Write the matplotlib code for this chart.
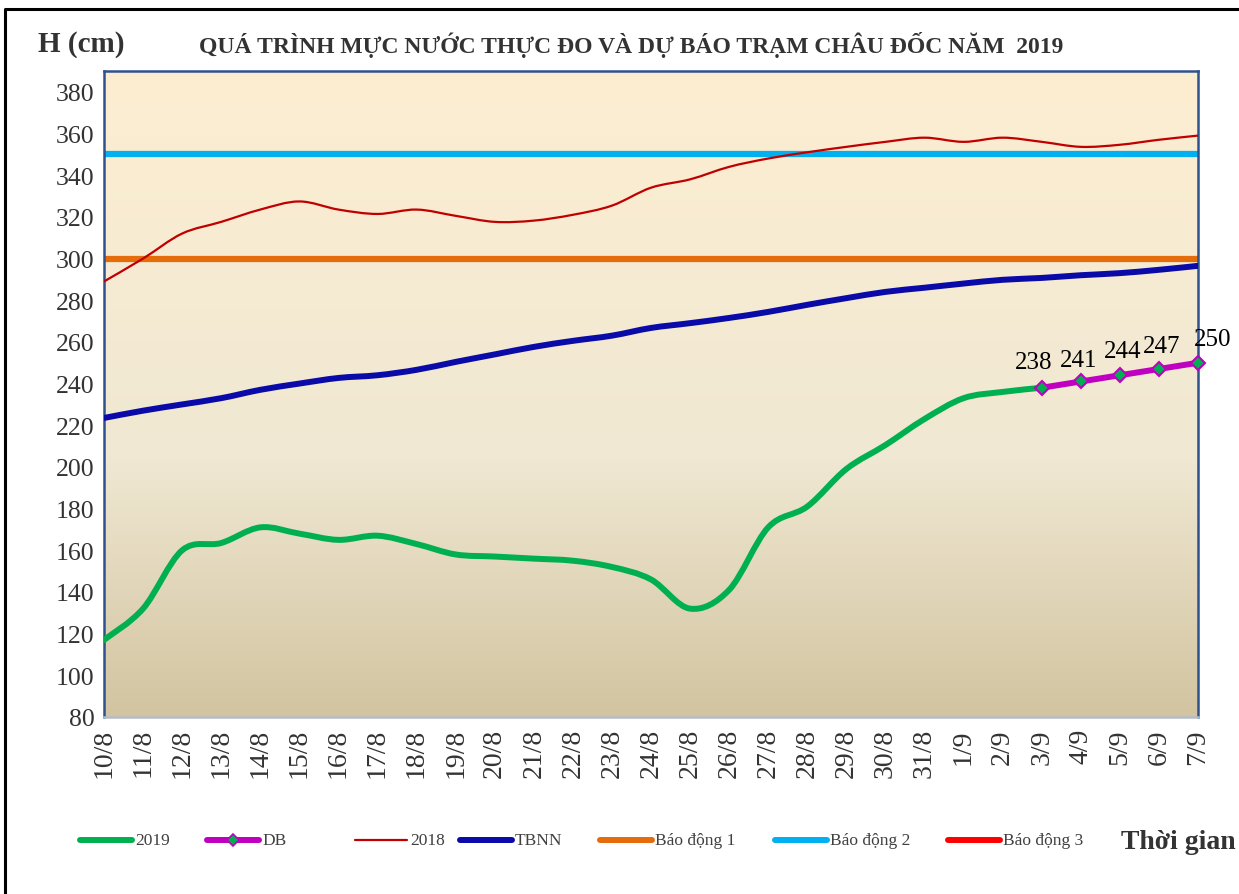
import numpy as np
import matplotlib
matplotlib.use('Agg')
import matplotlib.pyplot as plt
from matplotlib.colors import LinearSegmentedColormap
from matplotlib.lines import Line2D
from matplotlib.path import Path
from matplotlib.patches import PathPatch

plt.rcParams['font.family'] = ['Liberation Serif', 'DejaVu Serif']

# Data
##########################################################################
dates = ['10/8', '11/8', '12/8', '13/8', '14/8', '15/8', '16/8', '17/8', '18/8', '19/8',
         '20/8', '21/8', '22/8', '23/8', '24/8', '25/8', '26/8', '27/8', '28/8', '29/8',
         '30/8', '31/8', '1/9', '2/9', '3/9', '4/9', '5/9', '6/9', '7/9']

# observed 2019 water level, up to 3/9
h_2019 = [117, 132, 160, 163.5, 171, 168, 165, 167, 163, 158,
          157, 156, 155, 152, 146, 132, 141, 171, 181, 199,
          210.5, 223, 233, 236, 238]

# forecast (DB), 3/9 -> 7/9
h_db = [238, 241, 244, 247, 250]

h_2018 = [289, 300, 312, 317.6, 323.5, 327.4, 323.5, 321.4, 323.5, 320.5,
          317.6, 318.2, 321, 325.4, 334, 338, 344, 348, 351, 353.6,
          356, 358, 356, 358, 356, 353.6, 354.6, 357, 359]

h_tbnn = [223.5, 227, 230, 233, 237, 240, 242.7, 244, 246.6, 250.4,
          254, 257.6, 260.5, 263, 266.7, 269, 271.5, 274.4, 277.8, 281,
          284, 286, 288, 289.8, 290.7, 292, 293, 294.6, 296.5]

bao_dong = [300, 350, 400]   # alarm levels 1, 2, 3


# draws a smoothed line through the points (bezier path, like excel "smoothed line")
def smooth_line(ax, xs, ys, **kw):
    p = np.column_stack([xs, ys]).astype(float)
    verts = [p[0]]
    codes = [Path.MOVETO]
    for i in range(len(p) - 1):
        p0 = p[i - 1] if i > 0 else p[i]
        p3 = p[i + 2] if i + 2 < len(p) else p[i + 1]
        c1 = p[i] + (p[i + 1] - p0) / 6
        c2 = p[i + 1] - (p3 - p[i]) / 6
        verts += [c1, c2, p[i + 1]]
        codes += [Path.CURVE4] * 3
    patch = PathPatch(Path(verts, codes), fill=False, **kw)
    ax.add_patch(patch)
    return patch


# Figure
##########################################################################
W, H = 1239, 895
fig = plt.figure(figsize=(W / 100, H / 100), dpi=100)
fig.patch.set_facecolor('white')

L, R, T, B = 104, 1198, 72, 718
ax = fig.add_axes([L / W, 1 - B / H, (R - L) / W, (B - T) / H])

x = np.arange(len(dates))
ymin, ymax = 80, 390

# gradient background of the plot area
cmap = LinearSegmentedColormap.from_list('bg', [(0, '#FDEED1'), (0.6, '#F0E8D3'), (1.0, '#D2C4A0')])
grad = np.linspace(0, 1, 256).reshape(-1, 1)
ax.imshow(grad, cmap=cmap, aspect='auto', extent=[0, len(dates) - 1, ymin, ymax],
          origin='upper', zorder=0)

c_bd = ['#E46C0A', '#00B0F0', '#FF0000']
for lvl, c in zip(bao_dong, c_bd):
    ax.plot(x, [lvl] * len(x), color=c, lw=4.5, zorder=2, solid_capstyle='butt')

smooth_line(ax, x, h_2018, edgecolor='#C00000', lw=1.6, zorder=3)
smooth_line(ax, x, h_tbnn, edgecolor='#0A0AA8', lw=4.3, zorder=3, capstyle='round')
smooth_line(ax, x[:len(h_2019)], h_2019, edgecolor='#00B050', lw=4.3, zorder=4, capstyle='round')
x_db = x[len(h_2019) - 1:]
smooth_line(ax, x_db, h_db, edgecolor='#C000C0', lw=4.3, zorder=5, capstyle='round', clip_on=False)
ax.plot(x_db, h_db, ls='none', zorder=6, marker='D', markersize=7,
        markerfacecolor='#00B050', markeredgecolor='#C000C0', markeredgewidth=1.5, clip_on=False)

# label offsets in pixels (dx, dy), as placed in the original
lab_off = [(-8, 26), (-2, 21), (3, 24), (3, 23), (15, 24)]
for (xi, v), (dx, dy) in zip(zip(x_db, h_db), lab_off):
    ax.annotate(str(v), (xi, v), xytext=(dx * 0.72, dy * 0.72), textcoords='offset points',
                ha='center', va='center', fontsize=18, color='black', zorder=7,
                annotation_clip=False)

ax.set_xlim(0, len(dates) - 1)
ax.set_ylim(ymin, ymax)
ax.set_yticks(np.arange(80, 381, 20))
ax.tick_params(axis='y', length=0, labelsize=18.5, labelcolor='#333333', pad=7)
ax.set_xticks(x)
ax.set_xticklabels(dates, rotation=90)
ax.tick_params(axis='x', length=0, labelsize=20, labelcolor='#333333', pad=8)

for s in ['left', 'top', 'right']:
    ax.spines[s].set_color('#2F528F')
    ax.spines[s].set_linewidth(1.8)
ax.spines['bottom'].set_color('#B4BCC8')
ax.spines['bottom'].set_linewidth(1.8)

# titles
fig.text(38 / W, 1 - 45 / H, 'H (cm)', fontsize=21, fontweight='bold', color='#333333',
         ha='left', va='center')
fig.text(631 / W, 1 - 45 / H, 'QUÁ TRÌNH MỰC NƯỚC THỰC ĐO VÀ DỰ BÁO TRẠM CHÂU ĐỐC NĂM  2019',
         fontsize=17, fontweight='bold', color='#333333', ha='center', va='center')
fig.text(1121 / W, 1 - 843 / H, 'Thời gian', fontsize=20, fontweight='bold', color='#333333',
         ha='left', va='center')

# legend drawn by hand to follow the spacing of the original
leg_y = 1 - 841 / H
entries = [
    (80, '2019', dict(color='#00B050', lw=4.3)),
    (207, 'DB', dict(color='#C000C0', lw=4.3)),
    (355, '2018', dict(color='#C00000', lw=1.6)),
    (460, 'TBNN', dict(color='#0A0AA8', lw=4.3)),
    (600, 'Báo động 1', dict(color=c_bd[0], lw=4.3)),
    (775, 'Báo động 2', dict(color=c_bd[1], lw=4.3)),
    (948, 'Báo động 3', dict(color=c_bd[2], lw=4.3)),
]
for x0, label, kw in entries:
    fig.add_artist(Line2D([x0 / W, (x0 + 52) / W], [leg_y, leg_y], transform=fig.transFigure,
                          solid_capstyle='round', **kw))
    if label == 'DB':
        fig.add_artist(Line2D([(x0 + 26) / W], [leg_y], transform=fig.transFigure, marker='D',
                              markersize=6, markerfacecolor='#00B050', markeredgecolor='#C000C0',
                              markeredgewidth=1.2))
    fig.text((x0 + 55) / W, leg_y, label, fontsize=12.5, color='#404040', ha='left', va='center')

# outer frame (only top and left edges are inside the picture)
fig.add_artist(Line2D([5 / W, 5 / W, 1.01], [-0.01, 1 - 10 / H, 1 - 10 / H],
                      transform=fig.transFigure, color='black', lw=2.2))

fig.savefig('out.png', dpi=100)
